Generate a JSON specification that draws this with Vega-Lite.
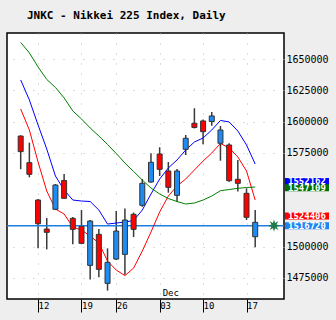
{
  "$schema": "https://vega.github.io/schema/vega-lite/v6.json",
  "width": 277,
  "height": 266,
  "autosize": {"type": "none"},
  "padding": {"left": 7, "top": 33, "right": 52, "bottom": 21},
  "background": "#eeeeee",
  "view": {"fill": "white", "stroke": "black", "strokeWidth": 1.5},
  "title": {
    "text": "JNKC - Nikkei 225 Index, Daily",
    "anchor": "start",
    "frame": "group",
    "font": "DejaVu Sans Mono",
    "fontSize": 11,
    "fontWeight": "bold",
    "color": "black",
    "offset": 12,
    "dx": 20
  },
  "config": {
    "axis": {"labelFont": "DejaVu Sans Mono", "labelColor": "black", "labelFontSize": 10},
    "axisRight": {"labelAlign": "left", "labelBaseline": "middle", "labelPadding": 2, "ticks": false, "domain": false}
  },
  "datasets": {
    "candles": [
      {"d": "2007-11-08", "t": 0, "o": 1588500, "h": 1589000, "l": 1561900, "c": 1576000, "b": 1633410, "r": 1610180, "g": 1663460},
      {"d": "2007-11-09", "t": 1, "o": 1567150, "h": 1583170, "l": 1555450, "c": 1557850, "b": 1617390, "r": 1593350, "g": 1655050},
      {"d": "2007-11-12", "t": 2, "o": 1537260, "h": 1538060, "l": 1498550, "c": 1518270, "b": 1597350, "r": 1567710, "g": 1643830},
      {"d": "2007-11-13", "t": 3, "o": 1514020, "h": 1522830, "l": 1497750, "c": 1511380, "b": 1578120, "r": 1544470, "g": 1633810},
      {"d": "2007-11-14", "t": 4, "o": 1529800, "h": 1550080, "l": 1529240, "c": 1549280, "b": 1556490, "r": 1530050, "g": 1627400},
      {"d": "2007-11-15", "t": 5, "o": 1552880, "h": 1558090, "l": 1538460, "c": 1538620, "b": 1545270, "r": 1526040, "g": 1618990},
      {"d": "2007-11-16", "t": 6, "o": 1522590, "h": 1523640, "l": 1501760, "c": 1513780, "b": 1537260, "r": 1515620, "g": 1608570},
      {"d": "2007-11-19", "t": 7, "o": 1516180, "h": 1529240, "l": 1502000, "c": 1502560, "b": 1536460, "r": 1513220, "g": 1602160},
      {"d": "2007-11-20", "t": 8, "o": 1484930, "h": 1521230, "l": 1473550, "c": 1520430, "b": 1536060, "r": 1508410, "g": 1594950},
      {"d": "2007-11-21", "t": 9, "o": 1509770, "h": 1514020, "l": 1475320, "c": 1481730, "b": 1529240, "r": 1502800, "g": 1588540},
      {"d": "2007-11-22", "t": 10, "o": 1470510, "h": 1498550, "l": 1464740, "c": 1487340, "b": 1518030, "r": 1488380, "g": 1581730},
      {"d": "2007-11-26", "t": 11, "o": 1489980, "h": 1528440, "l": 1489180, "c": 1512420, "b": 1518830, "r": 1481170, "g": 1574520},
      {"d": "2007-11-27", "t": 12, "o": 1493750, "h": 1530450, "l": 1477400, "c": 1521230, "b": 1519630, "r": 1476760, "g": 1566900},
      {"d": "2007-11-28", "t": 13, "o": 1525800, "h": 1527240, "l": 1507610, "c": 1513780, "b": 1520830, "r": 1482770, "g": 1560090},
      {"d": "2007-11-29", "t": 14, "o": 1533010, "h": 1554080, "l": 1531890, "c": 1550640, "b": 1529240, "r": 1496390, "g": 1553280},
      {"d": "2007-11-30", "t": 15, "o": 1551680, "h": 1574680, "l": 1551120, "c": 1567470, "b": 1542070, "r": 1511620, "g": 1546870},
      {"d": "2007-12-03", "t": 16, "o": 1574120, "h": 1579490, "l": 1556490, "c": 1561860, "b": 1554080, "r": 1527640, "g": 1542070},
      {"d": "2007-12-04", "t": 17, "o": 1560500, "h": 1567710, "l": 1543110, "c": 1547430, "b": 1562900, "r": 1540460, "g": 1538460},
      {"d": "2007-12-05", "t": 18, "o": 1541020, "h": 1562100, "l": 1535900, "c": 1560500, "b": 1569310, "r": 1548480, "g": 1536060},
      {"d": "2007-12-06", "t": 19, "o": 1577880, "h": 1589340, "l": 1573320, "c": 1586700, "b": 1577320, "r": 1554080, "g": 1534050},
      {"d": "2007-12-07", "t": 20, "o": 1598720, "h": 1610740, "l": 1594550, "c": 1595350, "b": 1583730, "r": 1561300, "g": 1534850},
      {"d": "2007-12-10", "t": 21, "o": 1600560, "h": 1601760, "l": 1581890, "c": 1591990, "b": 1586940, "r": 1568510, "g": 1537260},
      {"d": "2007-12-11", "t": 22, "o": 1600160, "h": 1607770, "l": 1596790, "c": 1604570, "b": 1593350, "r": 1574920, "g": 1540460},
      {"d": "2007-12-12", "t": 23, "o": 1582690, "h": 1596550, "l": 1568750, "c": 1593350, "b": 1600960, "r": 1582530, "g": 1544710},
      {"d": "2007-12-13", "t": 24, "o": 1581330, "h": 1582690, "l": 1551920, "c": 1552720, "b": 1599760, "r": 1578930, "g": 1545670},
      {"d": "2007-12-14", "t": 25, "o": 1553840, "h": 1569310, "l": 1544070, "c": 1550640, "b": 1592550, "r": 1571710, "g": 1546630},
      {"d": "2007-12-17", "t": 26, "o": 1542630, "h": 1546630, "l": 1521230, "c": 1523400, "b": 1581330, "r": 1560500, "g": 1547270},
      {"d": "2007-12-18", "t": 27, "o": 1507850, "h": 1529240, "l": 1499360, "c": 1519390, "b": 1566100, "r": 1537260, "g": 1547670}
    ],
    "tags": [
      {"name": "blue", "v": 1552162},
      {"name": "green", "v": 1547109},
      {"name": "red", "v": 1524406},
      {"name": "last", "v": 1516720}
    ]
  },
  "layer": [
    {
      "data": {"name": "candles"},
      "mark": {"type": "rule", "color": "#3a3a3a", "strokeWidth": 1.5},
      "encoding": {
        "x": {
          "field": "t", "type": "quantitative", "title": null,
          "scale": {"domain": [-1, 29.74], "nice": false, "zero": false},
          "axis": {
            "orient": "bottom",
            "values": [2, 7, 11, 16, 21, 26],
            "labelExpr": "datum.value == 2 ? '12' : datum.value == 7 ? '19' : datum.value == 11 ? '26' : datum.value == 16 ? '03' : datum.value == 21 ? '10' : '17'",
            "domain": false,
            "ticks": true, "tickSize": 13, "tickColor": "black", "tickWidth": 1,
            "labelAlign": "left", "labelDx": 2, "labelBaseline": "middle", "labelPadding": -6.5,
            "labelOverlap": false,
            "labelFontSize": 9,
            "grid": true, "gridDash": [1, 9], "gridColor": "#b8b8b8"
          }
        },
        "y": {
          "field": "l", "type": "quantitative", "title": null,
          "scale": {"domain": [1458000, 1671000], "nice": false, "zero": false},
          "axis": {"orient": "right", "values": [1475000, 1500000, 1575000, 1600000, 1625000, 1650000], "format": "d", "labelOverlap": false, "grid": true, "gridDash": [1, 9], "gridColor": "#b8b8b8"}
        },
        "y2": {"field": "h"}
      }
    },
    {
      "data": {"name": "tags"},
      "transform": [{"filter": "datum.name == 'last'"}],
      "mark": {"type": "rule", "color": "#1e7fe0", "strokeWidth": 1.5},
      "encoding": {
        "y": {"field": "v", "type": "quantitative", "title": null,
          "axis": {"orient": "right", "values": [1475000, 1500000, 1575000, 1600000, 1625000, 1650000], "format": "d", "labelOverlap": false, "grid": true, "gridDash": [1, 9], "gridColor": "#b8b8b8"}}
      }
    },
    {
      "data": {"name": "candles"},
      "mark": {"type": "line", "color": "#008000", "strokeWidth": 1},
      "encoding": {
        "x": {"field": "t", "type": "quantitative", "title": null},
        "y": {"field": "g", "type": "quantitative", "title": null,
          "axis": {"orient": "right", "values": [1475000, 1500000, 1575000, 1600000, 1625000, 1650000], "format": "d", "labelOverlap": false, "grid": true, "gridDash": [1, 9], "gridColor": "#b8b8b8"}}
      }
    },
    {
      "data": {"name": "candles"},
      "mark": {"type": "line", "color": "#ff0000", "strokeWidth": 1},
      "encoding": {
        "x": {"field": "t", "type": "quantitative", "title": null},
        "y": {"field": "r", "type": "quantitative", "title": null,
          "axis": {"orient": "right", "values": [1475000, 1500000, 1575000, 1600000, 1625000, 1650000], "format": "d", "labelOverlap": false, "grid": true, "gridDash": [1, 9], "gridColor": "#b8b8b8"}}
      }
    },
    {
      "data": {"name": "candles"},
      "mark": {"type": "line", "color": "#0000ff", "strokeWidth": 1},
      "encoding": {
        "x": {"field": "t", "type": "quantitative", "title": null},
        "y": {"field": "b", "type": "quantitative", "title": null,
          "axis": {"orient": "right", "values": [1475000, 1500000, 1575000, 1600000, 1625000, 1650000], "format": "d", "labelOverlap": false, "grid": true, "gridDash": [1, 9], "gridColor": "#b8b8b8"}}
      }
    },
    {
      "data": {"name": "candles"},
      "mark": {"type": "bar", "orient": "vertical", "size": 5, "stroke": "#333333", "strokeWidth": 1},
      "encoding": {
        "x": {"field": "t", "type": "quantitative", "title": null},
        "y": {"field": "o", "type": "quantitative", "title": null,
          "axis": {"orient": "right", "values": [1475000, 1500000, 1575000, 1600000, 1625000, 1650000], "format": "d", "labelOverlap": false, "grid": true, "gridDash": [1, 9], "gridColor": "#b8b8b8"}},
        "y2": {"field": "c"},
        "fill": {"condition": {"test": "datum.c > datum.o", "value": "#1e8cf5"}, "value": "#ff0000"}
      }
    },
    {
      "data": {"name": "tags"},
      "transform": [{"filter": "datum.name == 'last'"}],
      "mark": {
        "type": "point",
        "shape": "M0,-1L0.172,-0.416L0.707,-0.707L0.416,-0.172L1,0L0.416,0.172L0.707,0.707L0.172,0.416L0,1L-0.172,0.416L-0.707,0.707L-0.416,0.172L-1,0L-0.416,-0.172L-0.707,-0.707L-0.172,-0.416Z",
        "size": 150, "filled": true, "color": "#1f7a4c", "opacity": 1, "xOffset": -10
      },
      "encoding": {
        "x": {"value": "width"},
        "y": {"field": "v", "type": "quantitative", "title": null,
          "axis": {"orient": "right", "values": [1475000, 1500000, 1575000, 1600000, 1625000, 1650000], "format": "d", "labelOverlap": false, "grid": true, "gridDash": [1, 9], "gridColor": "#b8b8b8"}}
      }
    },
    {
      "data": {"name": "tags"},
      "mark": {"type": "tick", "size": 44, "thickness": 7, "opacity": 1, "xOffset": 23},
      "encoding": {
        "x": {"value": "width"},
        "y": {"field": "v", "type": "quantitative", "title": null,
          "axis": {"orient": "right", "values": [1475000, 1500000, 1575000, 1600000, 1625000, 1650000], "format": "d", "labelOverlap": false, "grid": true, "gridDash": [1, 9], "gridColor": "#b8b8b8"}},
        "color": {
          "field": "name", "type": "nominal", "legend": null,
          "scale": {"domain": ["blue", "green", "red", "last"], "range": ["#0000ff", "#007000", "#ff0000", "#1e84f0"]}
        }
      }
    },
    {
      "data": {"name": "tags"},
      "mark": {"type": "text", "color": "white", "font": "DejaVu Sans Mono", "fontSize": 9, "fontWeight": "bold", "align": "center", "baseline": "middle", "dx": 23},
      "encoding": {
        "x": {"value": "width"},
        "y": {"field": "v", "type": "quantitative", "title": null,
          "axis": {"orient": "right", "values": [1475000, 1500000, 1575000, 1600000, 1625000, 1650000], "format": "d", "labelOverlap": false, "grid": true, "gridDash": [1, 9], "gridColor": "#b8b8b8"}},
        "text": {"field": "v", "type": "quantitative", "format": "d"}
      }
    },
    {
      "data": {"values": [{"m": "Dec", "t": 16}]},
      "mark": {"type": "text", "color": "black", "font": "DejaVu Sans Mono", "fontSize": 9, "align": "left", "baseline": "bottom", "dx": 3, "dy": -1},
      "encoding": {
        "x": {"field": "t", "type": "quantitative", "title": null},
        "y": {"value": "height"},
        "text": {"field": "m", "type": "nominal"}
      }
    }
  ]
}
